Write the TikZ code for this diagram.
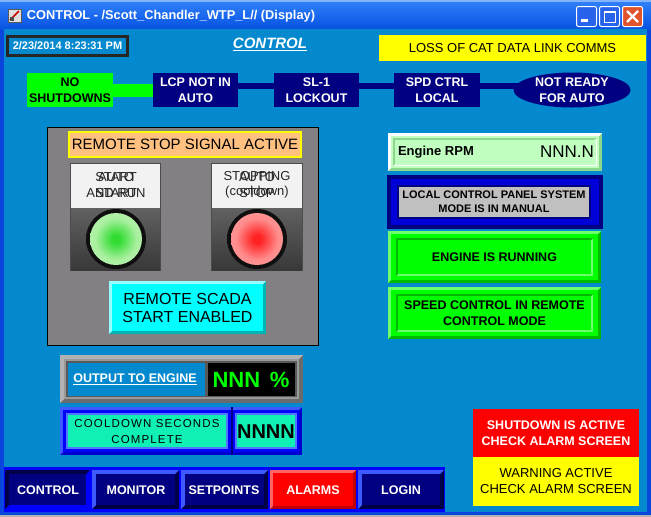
\documentclass[tikz,border=0pt]{standalone}
\usepackage{fontspec}
\setmainfont{Liberation Sans}
\newfontfamily\spc[LetterSpace=10]{Liberation Sans}
\usetikzlibrary{shapes.geometric}
\definecolor{bg}{RGB}{4,137,206}
\definecolor{frameblue}{RGB}{10,70,222}
\definecolor{tbtop}{RGB}{50,130,250}
\definecolor{tbbot}{RGB}{6,82,226}
\definecolor{navy}{RGB}{0,0,128}
\definecolor{navydark}{RGB}{0,0,70}
\definecolor{pureblue}{RGB}{0,0,255}
\definecolor{lightblue}{RGB}{60,90,255}
\definecolor{lgreen}{RGB}{0,255,0}
\definecolor{grnlight}{RGB}{110,255,110}
\definecolor{grndark}{RGB}{0,185,0}
\definecolor{panelgray}{RGB}{130,128,130}
\definecolor{peach}{RGB}{255,192,128}
\definecolor{yel}{RGB}{255,255,0}
\definecolor{cyanc}{RGB}{0,255,255}
\definecolor{cyanlight}{RGB}{150,255,255}
\definecolor{cyandark}{RGB}{0,180,180}
\definecolor{mint}{RGB}{16,240,180}
\definecolor{cdlight}{RGB}{80,120,255}
\definecolor{rpm}{RGB}{192,255,192}
\definecolor{rpmdark}{RGB}{140,215,140}
\definecolor{lgray}{RGB}{192,192,192}
\definecolor{redc}{RGB}{255,0,0}
\definecolor{redlight}{RGB}{255,100,100}
\definecolor{reddark}{RGB}{190,0,0}
\definecolor{xpblue}{RGB}{40,100,235}
\definecolor{xpred}{RGB}{224,83,43}
\definecolor{btnwhite}{RGB}{242,242,242}
\definecolor{gc0}{RGB}{50,220,50}
\definecolor{gc1}{RGB}{170,240,160}
\definecolor{gc2}{RGB}{205,245,195}
\definecolor{rc0}{RGB}{255,35,35}
\definecolor{rc1}{RGB}{255,140,140}
\definecolor{rc2}{RGB}{255,175,175}
\definecolor{ringin}{RGB}{15,15,15}
\definecolor{ringout}{RGB}{95,95,95}
\pgfdeclareradialshading{greenglow}{\pgfpointorigin}{color(0bp)=(gc0); color(4bp)=(gc0); color(20bp)=(gc1); color(50bp)=(gc2)}
\pgfdeclareradialshading{redglow}{\pgfpointorigin}{color(0bp)=(rc0); color(4bp)=(rc0); color(20bp)=(rc1); color(50bp)=(rc2)}
\pgfdeclareradialshading{ring}{\pgfpointorigin}{color(0bp)=(ringin); color(42bp)=(ringin); color(50bp)=(ringout)}
\newcommand\fsz[2]{\fontsize{#1}{#2}\selectfont}
% bevel: x1 y1 x2 y2 width light dark fill
\newcommand\bev[8]{%
  \fill[#7] (#1,#2) rectangle (#3,#4);
  \fill[#6] (#1,#2) -- (#3,#2) -- ({#3-#5},{#2+#5}) -- ({#1+#5},{#4-#5}) -- (#1,#4) -- cycle;
  \fill[#8] ({#1+#5},{#2+#5}) rectangle ({#3-#5},{#4-#5});}
\tikzset{
  txt/.style={inner sep=0pt, outer sep=0pt, align=center},
  stat/.style={txt, fill=navy, text=white, font=\bfseries\fsz{12.5}{16}, minimum height=34pt, anchor=north west},
  stattxt/.style={txt, text=white, font=\bfseries\fsz{12.5}{16}},
  navtxt/.style={txt, text=white, font=\bfseries\fsz{12.5}{15}},
  boxtxt/.style={txt, font=\bfseries\fsz{12.5}{15.5}},
  btntxt/.style={txt, text=black!85, font=\fsz{13}{15.5}},
}
\begin{document}
\begin{tikzpicture}[x=1pt,y=-1pt]
\useasboundingbox (0,0) rectangle (651,517);
% window frame and title bar
\fill[frameblue] (0,0) rectangle (651,517);
\shade[top color=tbtop, bottom color=tbbot] (0,0) rectangle (651,29);
\fill[tbtop!60!white] (0,0) rectangle (651,1.5);
\fill[bg] (4,29) rectangle (647,512);
\fill[gray!60] (0,515) rectangle (651,517);
% title icon
\fill[gray!25] (8,9) rectangle (21,22);
\draw[gray!70!black, line width=0.8pt] (8,9) rectangle (21,22);
\draw[red!80!black, line width=1.5pt] (10,20) -- (19,11);
\fill[gray!60!black] (10,17) rectangle (14,21);
\node[txt, anchor=west, text=white, font=\bfseries\fsz{12.8}{14}] (title) at (27,16) {CONTROL - /Scott\_Chandler\_WTP\_L// (Display)};
% window buttons
\draw[white, line width=1pt, fill=xpblue, rounded corners=2pt] (576.5,6.5) rectangle (596.5,26.5);
\fill[white] (581,19) rectangle (588,22);
\draw[white, line width=1pt, fill=xpblue, rounded corners=2pt] (599.5,6.5) rectangle (619.5,26.5);
\draw[white, line width=1pt] (604,11) rectangle (615,22);
\fill[white] (603.5,10.5) rectangle (615.5,13);
\draw[white, line width=1pt, fill=xpred, rounded corners=2pt] (622.5,6.5) rectangle (642.5,26.5);
\draw[white, line width=2.2pt] (627,11) -- (638,22) (638,11) -- (627,22);
% date box
\draw[black!85, line width=3pt] (7.5,36.5) rectangle (127.5,55.5);
\node[txt, text=white, font=\bfseries\fsz{11}{13}] (date) at (67.5,46) {2/23/2014 8:23:31 PM};
% heading
\node[txt, text=white, font=\bfseries\itshape\fsz{15}{18}] (hdr) at (270,44) {\underline{CONTROL}};
% loss of comms
\node[txt, anchor=north west, fill=yel, minimum width=267pt, minimum height=26pt, font=\fsz{13}{15}] (loss) at (379,35) {LOSS OF CAT DATA LINK COMMS};
% status row
\node[stat, fill=lgreen, text=black, minimum width=86pt] (nos) at (27,73) {NO\\SHUTDOWNS};
\node[stat, minimum width=85pt] (lcp) at (153,73) {LCP NOT IN\\AUTO};
\node[stat, minimum width=85pt] (sl1) at (274,73) {SL-1\\LOCKOUT};
\node[stat, minimum width=86pt] (spd) at (394,73) {SPD CTRL\\LOCAL};
\node[ellipse, fill=navy, minimum width=117pt, minimum height=35pt, inner sep=0pt, outer sep=0pt] (nr) at (572,90) {};
\node[stattxt] (nrt) at (nr.center) {NOT READY\\FOR AUTO};
\draw[lgreen, line width=13pt] (nos.east) -- (lcp.west);
\draw[navy, line width=6pt] ([yshift=4pt]lcp.east) -- ([yshift=4pt]sl1.west);
\draw[navy, line width=6pt] ([yshift=4pt]sl1.east) -- ([yshift=4pt]spd.west);
\draw[navy, line width=6pt] ([yshift=4pt]spd.east) -- ([yshift=4pt,xshift=8pt]nr.west);
% gray panel
\draw[fill=panelgray, draw=black, line width=1pt] (47.5,127.5) rectangle (318.5,345.5);
\node[txt, anchor=north west, fill=peach, draw=yel, line width=2pt, minimum width=232pt, minimum height=25pt, font=\fsz{15}{17}] (rstop) at (69,132) {REMOTE STOP SIGNAL ACTIVE};
% start button
\fill[black!70] (70,163) rectangle (161,271);
\fill[btnwhite] (71,164) rectangle (160,208);
\shade[top color=black!62, bottom color=black!78] (71,208) rectangle (160,270);
\shade[shading=ring] (116,239) circle (30);
\shade[shading=greenglow] (116,239) circle (26);
\node[btntxt] (st1) at (116,185) {START\\AND RUN};
\node[btntxt] (st2) at (116,185) {AUTO\\START};
% stop button
\fill[black!70] (211,163) rectangle (303,271);
\fill[btnwhite] (212,164) rectangle (302,208);
\shade[top color=black!62, bottom color=black!78] (212,208) rectangle (302,270);
\shade[shading=ring] (257,239) circle (30);
\shade[shading=redglow] (257,239) circle (26);
\node[btntxt] (sp1) at (257,185) {STOPPING\\(cooldown)};
\node[btntxt] (sp2) at (257,185) {AUTO\\STOP};
% scada
\bev{109}{281}{266}{334}{3}{cyanlight}{cyandark}{cyanc}
\node[txt, font=\fsz{16}{18.5}] (scada) at (187.5,308) {REMOTE SCADA\\START ENABLED};
% output to engine
\bev{60}{355}{303}{403}{4}{black!30}{black!58}{black!40}
\fill[black!65] (66,361) rectangle (297,397);
\fill[bg] (68,363) rectangle (205,396);
\fill[black] (208,363) rectangle (295,396);
\node[txt, text=white, font=\bfseries\fsz{12.5}{15}] (outl) at (135,379) {\underline{OUTPUT TO ENGINE}};
\node[txt, text=lgreen, font=\bfseries\fsz{22}{24}] (outv) at (251,380) {NNN \,\%};
% cooldown
\bev{60}{407}{302}{455}{3}{lightblue}{pureblue!80!black}{pureblue}
\fill[cdlight] (66,413) rectangle (228,449);
\fill[mint] (68,415) rectangle (226,447);
\fill[navy] (231,407) rectangle (233,455);
\fill[cdlight] (235,413) rectangle (297,449);
\fill[mint] (237,415) rectangle (295,447);
\node[txt, font=\spc\fsz{11.5}{16}] (cdt) at (147,432) {COOLDOWN SECONDS\\COMPLETE};
\node[txt, font=\bfseries\fsz{20}{22}] (cdv) at (266,432) {NNNN};
% engine rpm
\bev{388}{133}{602}{171}{3}{white}{rpmdark}{rpm}
\bev{393}{138}{597}{166}{1.5}{rpmdark}{white}{rpm}
\node[txt, anchor=west, font=\bfseries\fsz{13}{15}] (rpml) at (398,152) {Engine RPM};
\node[txt, anchor=east, font=\fsz{17}{19}] (rpmv) at (594,152) {NNN.N};
% local control panel
\fill[navy] (387,175) rectangle (603,229);
\fill[pureblue!85!black] (391,179) rectangle (599,225);
\fill[navy] (397,185) rectangle (591,219);
\fill[lgray] (399,187) rectangle (589,217);
\node[txt, font=\bfseries\fsz{11}{14}] (lcpt) at (494,202) {LOCAL CONTROL PANEL SYSTEM\\MODE IS IN MANUAL};
% engine running
\bev{388}{231}{601}{283}{3}{grnlight}{grndark}{lgreen}
\bev{396}{238}{593}{276}{2}{grndark}{grnlight}{lgreen}
\node[boxtxt] (run) at (494.5,257) {ENGINE IS RUNNING};
% speed control
\bev{388}{287}{601}{339}{3}{grnlight}{grndark}{lgreen}
\bev{396}{294}{593}{332}{2}{grndark}{grnlight}{lgreen}
\node[boxtxt] (spdc) at (494.5,313) {SPEED CONTROL IN REMOTE\\CONTROL MODE};
% alarms
\node[txt, anchor=north west, fill=redc, minimum width=166pt, minimum height=48pt, text=white, font=\bfseries\fsz{12.5}{16}] (sd) at (473,409) {SHUTDOWN IS ACTIVE\\CHECK ALARM SCREEN};
\node[txt, anchor=north west, fill=yel, minimum width=166pt, minimum height=49pt, font=\fsz{13}{16}] (warn) at (473,457) {WARNING ACTIVE\\CHECK ALARM SCREEN};
% navigation bar
\fill[pureblue] (4,467) rectangle (445,512);
\bev{5}{470}{90}{509}{4}{navydark}{pureblue}{navy}
\bev{92}{470}{179}{509}{4}{lightblue}{navydark}{navy}
\bev{181}{470}{268}{509}{4}{lightblue}{navydark}{navy}
\bev{270}{470}{356}{509}{3}{redlight}{reddark}{redc}
\bev{358}{470}{444}{509}{4}{lightblue}{navydark}{navy}
\node[navtxt] (nav1) at (48,490) {CONTROL};
\node[navtxt] (nav2) at (136,490) {MONITOR};
\node[navtxt] (nav3) at (224,490) {SETPOINTS};
\node[navtxt] (nav4) at (313,490) {ALARMS};
\node[navtxt] (nav5) at (401,490) {LOGIN};
\end{tikzpicture}
\end{document}
